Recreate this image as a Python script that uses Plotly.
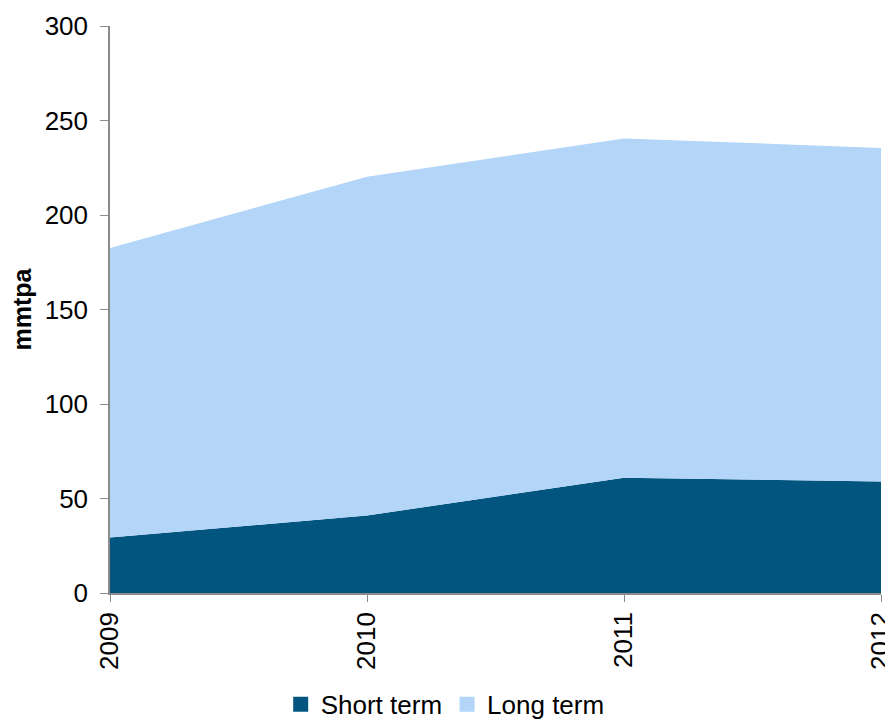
import plotly.graph_objects as go

years = [2009, 2010, 2011, 2012]
short_term = [29.3, 41.0, 61.0, 59.0]
long_term = [153.2, 179.3, 179.5, 176.5]
y_ticks = [0, 50, 100, 150, 200, 250, 300]
series_names = ["Short term", "Long term"]
series_colors = ["#02557F", "#B3D5F8"]

FONT = "Liberation Sans, Arial, sans-serif"

fig = go.Figure()
for vals, name, col in zip([short_term, long_term], series_names, series_colors):
    fig.add_trace(go.Scatter(x=years, y=vals, name=name, mode="lines",
                             stackgroup="one", line=dict(width=0, color=col),
                             fillcolor=col, showlegend=False))
# legend entries drawn as square swatches
for name, col in zip(series_names, series_colors):
    fig.add_trace(go.Scatter(x=[None], y=[None], name=name, mode="markers",
                             marker=dict(symbol="square", size=15, color=col)))

fig.update_layout(
    width=885, height=712,
    margin=dict(l=102, r=12, t=18, b=127),
    paper_bgcolor="white", plot_bgcolor="white",
    font=dict(family=FONT, size=26, color="black"),
    showlegend=True,
    legend=dict(orientation="h", xref="container", yref="container",
                x=0.494, xanchor="center", y=0.022, yanchor="middle",
                traceorder="normal", font=dict(size=26), itemwidth=30,
                bgcolor="rgba(0,0,0,0)"),
    xaxis=dict(range=[2009, 2012], tickvals=years, ticktext=[str(y) for y in years],
               tickangle=-90, showline=True, linecolor="#8a8a8a", linewidth=1.5,
               ticks="outside", ticklen=7, tickcolor="#8a8a8a", showgrid=False,
               zeroline=False, tickfont=dict(size=26), automargin=False,
               ticklabeloverflow="allow"),
    yaxis=dict(range=[0, 300], tickvals=y_ticks, showline=True, linecolor="#8a8a8a",
               linewidth=1.5, ticks="outside", ticklen=8, tickcolor="#8a8a8a",
               showgrid=False, zeroline=False, tickfont=dict(size=26), automargin=False,
               ticklabelstandoff=7,
               title=dict(text="<b>mmtpa</b>", font=dict(size=25), standoff=17)),
)

fig.write_html("out.html")
